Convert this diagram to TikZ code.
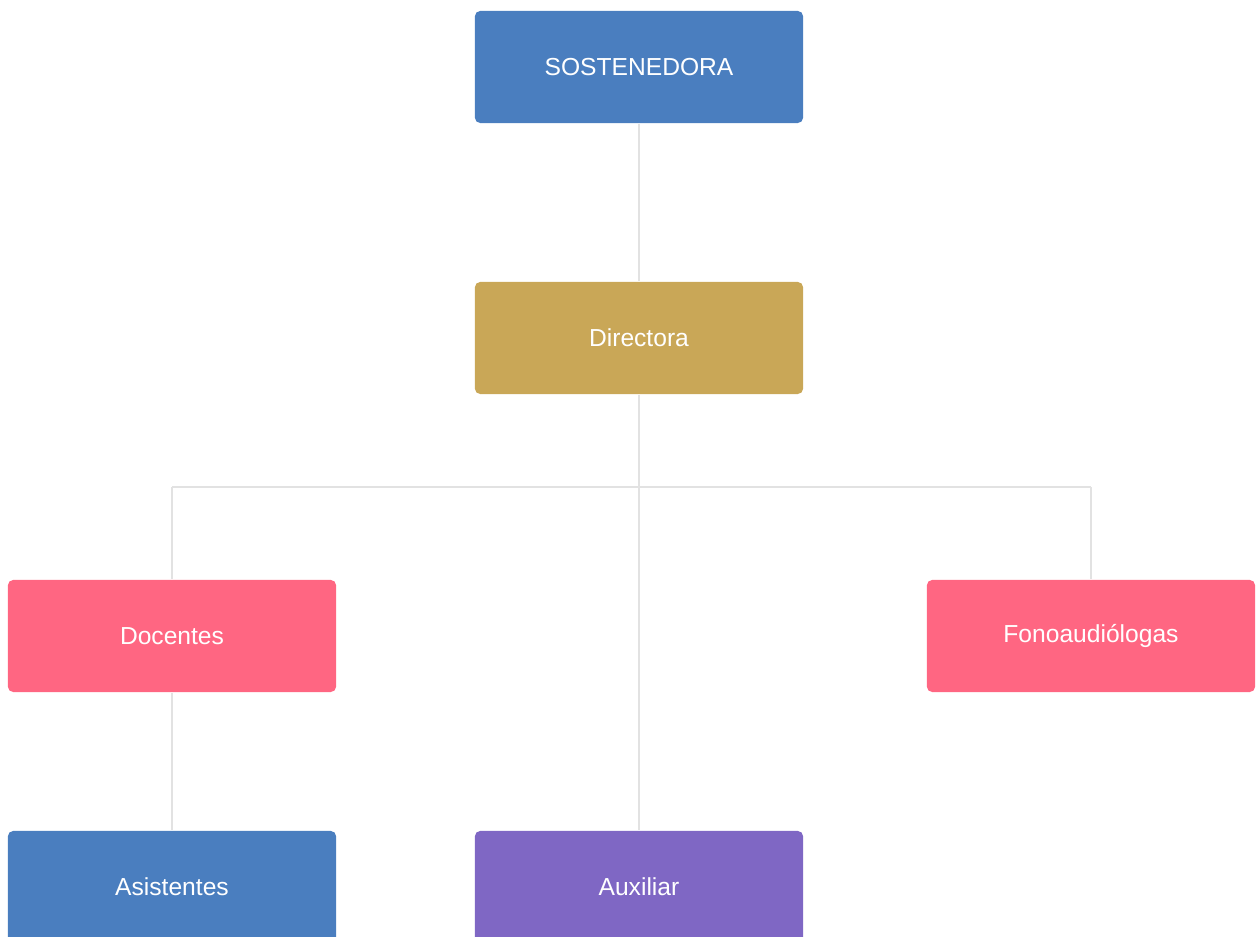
\documentclass[tikz,border=0pt]{standalone}
\usepackage{fontspec}
\setmainfont{Liberation Sans}
\usepackage{tikz}
\definecolor{azul}{HTML}{4A7EBF}
\definecolor{oro}{HTML}{C9A757}
\definecolor{rosa}{HTML}{FF6682}
\definecolor{lila}{HTML}{7F67C4}
\definecolor{linea}{HTML}{E2E2E2}
\tikzset{caja/.style={rounded corners=1.5pt,minimum width=3.28cm,minimum height=1.12cm,
    text=white,font=\fontsize{7}{8}\selectfont,inner sep=0pt},
  enlace/.style={draw=linea,line width=0.8pt}}

\begin{document}
\begin{tikzpicture}[x=0.01cm,y=-0.01cm] % Organigrama
       \useasboundingbox (0,0) rectangle (1256,937);
       \clip (0,0) rectangle (1256,937);
       \node[caja,fill=azul] (sost) at (639,67) {SOSTENEDORA};
       \node[caja,fill=oro] (dir) at (639,338) {Directora};
       \node[caja,fill=rosa] (doc) at (172,636) {Docentes};
       \node[caja,fill=rosa] (fono) at (1091,636) {Fonoaudiólogas};
       \node[caja,fill=azul] (asis) at (172,887) {Asistentes};
       \node[caja,fill=lila] (aux) at (639,887) {Auxiliar};
       \coordinate (busL) at (172,487);
       \coordinate (busR) at (1091,487);
       \draw[enlace] (sost) -- (dir);
       \draw[enlace] (dir) -- (aux);
       \draw[enlace] (busL) -- (busR);
       \draw[enlace] (busL) -- (doc);
       \draw[enlace] (busR) -- (fono);
       \draw[enlace] (doc) -- (asis);
   \end{tikzpicture}
\end{document}
